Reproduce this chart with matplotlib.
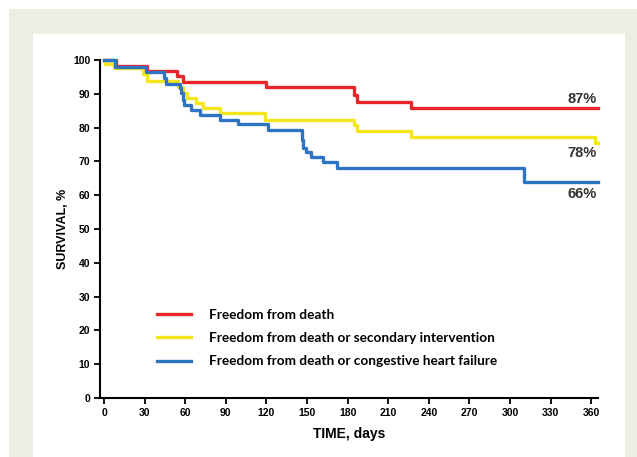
import matplotlib
matplotlib.use('Agg')
import matplotlib.pyplot as plt
from matplotlib.patches import Rectangle

# Kaplan-Meier curves (days, %)
death_days = [0, 9, 32, 54, 58, 120, 185, 187, 227, 365]
death_vals = [100, 98.3, 96.8, 95.3, 93.6, 91.9, 89.6, 87.7, 85.8, 85.8]

interv_days = [0, 1, 7, 29, 32, 55, 58, 61, 68, 73, 86, 119, 185, 187, 227, 363, 365]
interv_vals = [100, 98.8, 97.6, 95.9, 93.9, 92.0, 90.1, 88.7, 87.2, 85.7, 84.2, 82.2,
               80.8, 79.0, 77.1, 75.4, 75.4]

chf_days = [0, 8, 31, 44, 46, 56, 57, 58, 59, 64, 71, 86, 99, 121, 146, 147, 149,
            153, 162, 172, 310, 365]
chf_vals = [100, 98.0, 96.4, 94.7, 92.8, 91.6, 90.1, 88.2, 86.7, 85.2, 83.7, 82.2,
            81.1, 79.3, 76.3, 74.0, 72.8, 71.4, 69.9, 68.0, 64.0, 64.0]

labels = ['Freedom from death',
          'Freedom from death or secondary intervention',
          'Freedom from death or congestive heart failure']
end_labels = ['87%', '78%', '66%']
end_label_y = [88.5, 72.5, 60.3]

colors = ['#e8262a', '#f4e61c', '#2f74c2']

fig = plt.figure(figsize=(6.37, 4.57), dpi=100)
W, H = 637, 457
# beige frame and white panel
fig.patches.append(Rectangle((9 / W, 0), 1 - 9 / W, 1 - 9 / H, transform=fig.transFigure,
                             facecolor='#eeede3', edgecolor='none', zorder=-10))
fig.patches.append(Rectangle((33 / W, 0), (625 - 33) / W, 1 - 34 / H, transform=fig.transFigure,
                             facecolor='white', edgecolor='none', zorder=-9))

ax = fig.add_axes([100 / W, 1 - 398 / H, 498 / W, 338 / H])
ax.set_facecolor('none')

series = [(death_days, death_vals), (interv_days, interv_vals), (chf_days, chf_vals)]
for (d, v), c, lab in zip(series, colors, labels):
    ax.step(d, v, where='post', color=c, lw=2.4, label=lab, clip_on=False)

for txt, yy in zip(end_labels, end_label_y):
    ax.text(364, yy, txt, ha='right', va='center', fontsize=10.5, fontweight='bold',
            color='#333333', family='Liberation Sans')

ax.set_xlim(-3, 365)
ax.set_ylim(0, 100)
ax.set_xticks(range(0, 361, 30))
ax.set_yticks(range(0, 101, 10))
for s in ['top', 'right']:
    ax.spines[s].set_visible(False)
for s in ['left', 'bottom']:
    ax.spines[s].set_linewidth(1.5)
ax.tick_params(direction='out', length=4, width=1.3, labelsize=7.5, pad=3)
for t in ax.get_xticklabels() + ax.get_yticklabels():
    t.set_fontweight('bold')
    t.set_family('Liberation Sans')

ax.set_xlabel('TIME, days', fontsize=10, fontweight='bold', family='Liberation Sans', labelpad=7)
ax.set_ylabel('SURVIVAL, %', fontsize=9, fontweight='bold', family='Liberation Sans', labelpad=3)

leg = ax.legend(loc='upper left', bbox_to_anchor=(157 / W, 1 - 309 / H),
                bbox_transform=fig.transFigure, frameon=False, borderpad=0,
                borderaxespad=0, handlelength=2.5, handletextpad=1.3, labelspacing=0.82,
                prop={'family': 'Lato', 'weight': 'bold', 'size': 9.8})
for line in leg.get_lines():
    line.set_linewidth(2.4)

fig.savefig('out.png', dpi=100)
